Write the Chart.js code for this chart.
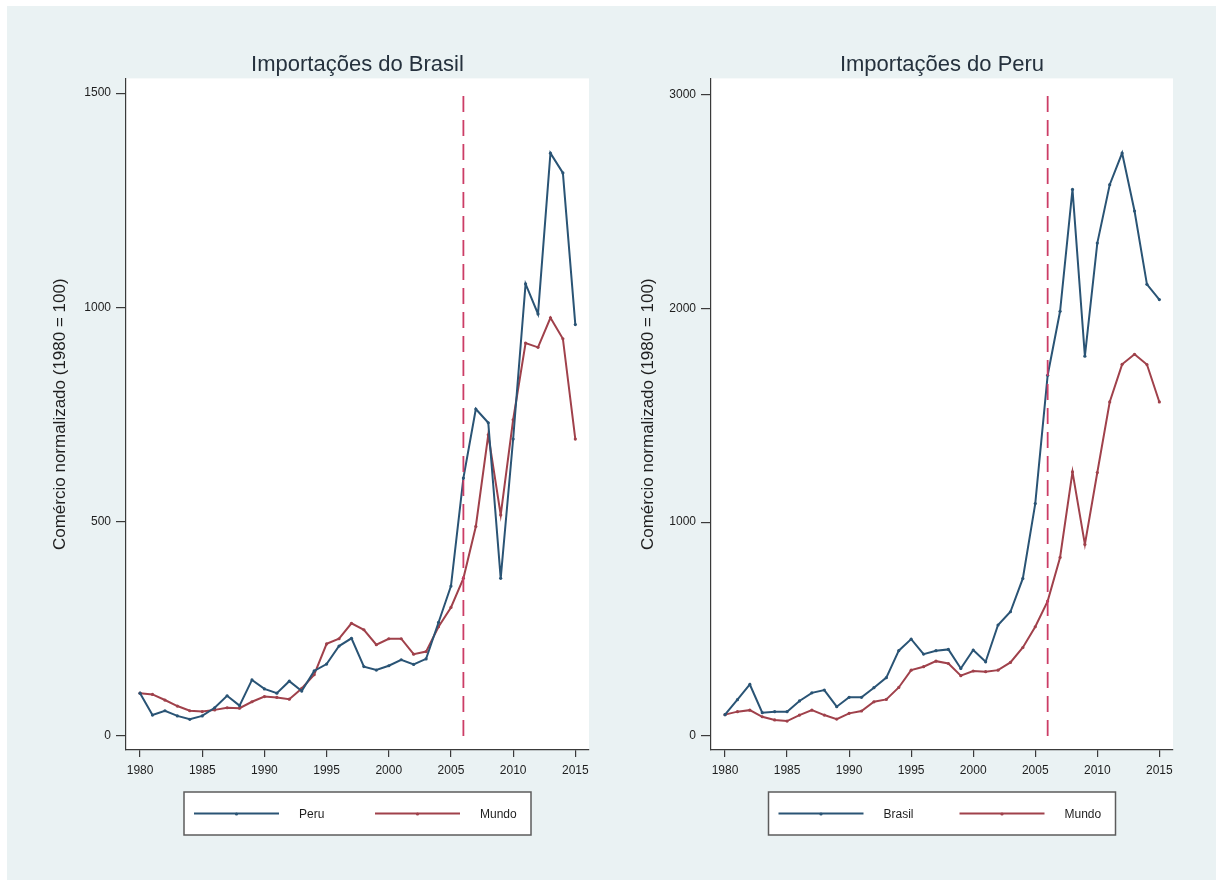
<!DOCTYPE html>
<html>
<head>
<meta charset="utf-8">
<script src="https://cdn.jsdelivr.net/npm/chart.js@4.4.1/dist/chart.umd.min.js"></script>
<style>
  html, body { margin: 0; padding: 0; background: #ffffff; }
  #frame { position: absolute; left: 7px; top: 6px; width: 1209px; height: 874px; background: #EAF2F3; }
  .panel { position: absolute; top: 0; width: 608px; height: 880px; }
  #leftPanel { left: 0; }
  #rightPanel { left: 608px; }
</style>
</head>
<body>
<div id="frame"></div>
<div class="panel" id="leftPanel"><canvas id="brasilChart" width="608" height="880"></canvas></div>
<div class="panel" id="rightPanel"><canvas id="peruChart" width="608" height="880"></canvas></div>
<script>
// Years on the horizontal axis
const years = [1980, 1981, 1982, 1983, 1984, 1985, 1986, 1987, 1988, 1989,
               1990, 1991, 1992, 1993, 1994, 1995, 1996, 1997, 1998, 1999,
               2000, 2001, 2002, 2003, 2004, 2005, 2006, 2007, 2008, 2009,
               2010, 2011, 2012, 2013, 2014, 2015];

// Brazil's imports (1980 = 100): from Peru and from the world
const brasilFromPeru = [100, 49, 59, 47, 39, 47, 66, 94, 71, 131,
                        110, 100, 128, 105, 152, 168, 210, 228, 162, 154,
                        164, 178, 167, 180, 265, 350, 602, 763, 731, 368,
                        693, 1055, 985, 1360, 1314, 960];
const brasilFromMundo = [100, 97, 84, 70, 59, 57, 61, 66, 65, 80,
                         92, 90, 86, 111, 143, 215, 227, 263, 248, 213,
                         227, 227, 191, 197, 255, 300, 368, 489, 703, 516,
                         738, 917, 907, 976, 927, 693];

// Peru's imports (1980 = 100): from Brazil and from the world
const peruFromBrasil = [100, 170, 241, 109, 114, 114, 164, 202, 215, 137,
                        181, 181, 226, 273, 399, 453, 383, 399, 405, 316,
                        402, 347, 519, 581, 737, 1087, 1687, 1986, 2556, 1776,
                        2305, 2578, 2726, 2455, 2112, 2041];
const peruFromMundo = [100, 114, 121, 90, 75, 70, 98, 121, 98, 79,
                       106, 117, 160, 171, 227, 308, 324, 350, 339, 282,
                       304, 301, 308, 344, 414, 511, 631, 835, 1235, 896,
                       1232, 1562, 1738, 1785, 1737, 1562];

// Tick labels
const xTicks = [1980, 1985, 1990, 1995, 2000, 2005, 2010, 2015];
const yTicksBrasil = [0, 500, 1000, 1500];
const yTicksPeru = [0, 1000, 2000, 3000];

// Reference year marked with a dashed vertical line
const markerYear = 2006;

const FONT = '"Liberation Sans", Arial, Helvetica, sans-serif';
const NAVY = '#2a5475';
const MAROON = '#a0414b';
const DASH = '#cc3d66';
const AXIS = '#3a3a3a';

const pairs = (xs, ys) => xs.map((x, i) => ({ x: x, y: ys[i] }));

// White plotting region
const plotBackground = {
  id: 'plotBackground',
  beforeDraw(chart) {
    const { ctx, chartArea: a } = chart;
    ctx.save();
    ctx.fillStyle = '#ffffff';
    ctx.fillRect(a.left, a.top, a.right - a.left, a.bottom - a.top);
    ctx.restore();
  }
};

// Boxed legend below the plot
const boxedLegend = {
  id: 'boxedLegend',
  afterDraw(chart) {
    const { ctx, chartArea: a } = chart;
    const w = 347, h = 43;
    const x0 = (a.left + a.right) / 2 - w / 2;
    const y0 = 792;
    ctx.save();
    ctx.fillStyle = '#ffffff';
    ctx.fillRect(x0, y0, w, h);
    ctx.strokeStyle = '#5c5c5c';
    ctx.lineWidth = 1.5;
    ctx.strokeRect(x0, y0, w, h);
    const items = chart.data.datasets.filter(d => d.inLegend);
    items.forEach((d, i) => {
      const lx = x0 + 10 + i * 181;
      const ly = y0 + h / 2;
      ctx.strokeStyle = d.borderColor;
      ctx.lineWidth = 2;
      ctx.beginPath();
      ctx.moveTo(lx, ly);
      ctx.lineTo(lx + 85, ly);
      ctx.stroke();
      ctx.fillStyle = d.borderColor;
      ctx.beginPath();
      ctx.arc(lx + 42.5, ly + 0.5, 1.6, 0, Math.PI * 2);
      ctx.fill();
      ctx.fillStyle = '#1e1e1e';
      ctx.font = '12px ' + FONT;
      ctx.textBaseline = 'middle';
      ctx.textAlign = 'left';
      ctx.fillText(d.label, lx + 105, ly + 1);
    });
    ctx.restore();
  }
};

function seriesDataset(label, values, color) {
  return {
    label: label,
    inLegend: true,
    data: pairs(years, values),
    borderColor: color,
    backgroundColor: color,
    borderWidth: 2,
    pointRadius: 1.6,
    pointHoverRadius: 1.6,
    pointBorderWidth: 0,
    tension: 0
  };
}

function markerDataset(top) {
  return {
    label: 'marker',
    inLegend: false,
    data: [{ x: markerYear, y: 0 }, { x: markerYear, y: top }],
    borderColor: DASH,
    borderWidth: 1.8,
    borderDash: [16, 8],
    pointRadius: 0,
    tension: 0
  };
}

function buildChart(canvasId, cfg) {
  const ctx = document.getElementById(canvasId).getContext('2d');
  return new Chart(ctx, {
    type: 'line',
    data: {
      datasets: [
        markerDataset(cfg.yTicks[cfg.yTicks.length - 1]),
        seriesDataset(cfg.labels[0], cfg.series[0], NAVY),
        seriesDataset(cfg.labels[1], cfg.series[1], MAROON)
      ]
    },
    options: {
      responsive: false,
      animation: false,
      events: [],
      layout: { padding: { left: 0, right: cfg.rightPad, top: 0, bottom: 90 } },
      plugins: {
        legend: { display: false },
        tooltip: { enabled: false },
        title: {
          display: true,
          text: cfg.title,
          fullSize: false,
          color: '#25313d',
          font: { family: FONT, size: 22, weight: 'normal' },
          padding: { top: 52, bottom: 0 }
        }
      },
      scales: {
        x: {
          type: 'linear',
          min: 1978.87,
          max: 2016.1,
          afterBuildTicks: s => { s.ticks = xTicks.map(v => ({ value: v })); },
          afterFit: s => { s.height = 40; },
          border: { display: true, color: AXIS, width: 1.2 },
          grid: { drawOnChartArea: false, drawTicks: true, tickLength: 7, color: AXIS, lineWidth: 1.2 },
          ticks: {
            padding: 6,
            maxRotation: 0,
            autoSkip: false,
            color: '#1e1e1e',
            font: { family: FONT, size: 12 },
            callback: v => String(v)
          }
        },
        y: {
          type: 'linear',
          min: cfg.yMin,
          max: cfg.yMax,
          afterBuildTicks: s => { s.ticks = cfg.yTicks.map(v => ({ value: v })); },
          afterFit: s => { s.width = cfg.yWidth; },
          border: { display: true, color: AXIS, width: 1.2 },
          grid: { drawOnChartArea: false, drawTicks: true, tickLength: 10, color: AXIS, lineWidth: 1.2 },
          ticks: {
            padding: 5,
            autoSkip: false,
            color: '#1e1e1e',
            font: { family: FONT, size: 12 },
            callback: v => String(v)
          },
          title: {
            display: true,
            text: 'Comércio normalizado (1980 = 100)',
            color: '#1e1e1e',
            font: { family: FONT, size: 17 },
            padding: { top: cfg.yTitlePad, bottom: 0 }
          }
        }
      }
    },
    plugins: [plotBackground, boxedLegend]
  });
}

buildChart('brasilChart', {
  title: 'Importações do Brasil',
  labels: ['Peru', 'Mundo'],
  series: [brasilFromPeru, brasilFromMundo],
  yTicks: yTicksBrasil,
  yMin: -32.6,
  yMax: 1534.5,
  yWidth: 126,
  yTitlePad: 50,
  rightPad: 19
});

buildChart('peruChart', {
  title: 'Importações do Peru',
  labels: ['Brasil', 'Mundo'],
  series: [peruFromBrasil, peruFromMundo],
  yTicks: yTicksPeru,
  yMin: -65.4,
  yMax: 3075,
  yWidth: 103,
  yTitlePad: 30,
  rightPad: 43
});
</script>
</body>
</html>
